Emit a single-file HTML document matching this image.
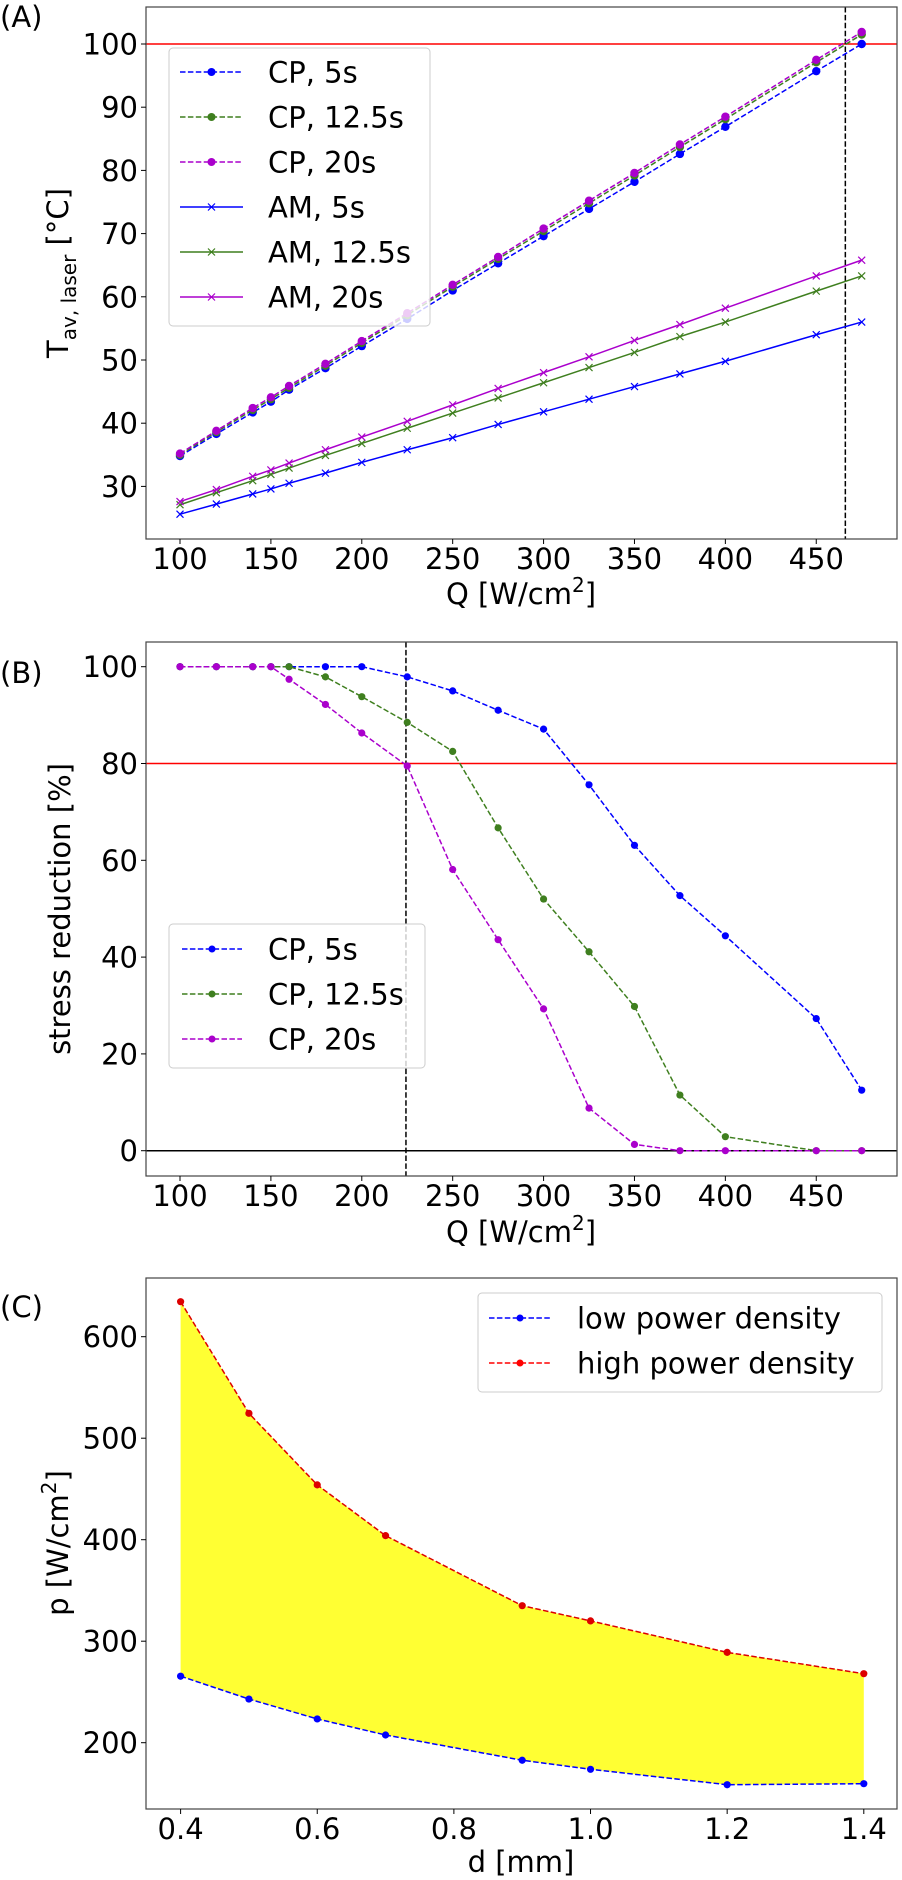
<!DOCTYPE html>
<html><head><meta charset="utf-8"><style>
html,body{margin:0;padding:0;background:#fff;}
svg{display:block;font-family:"DejaVu Sans","Liberation Sans",sans-serif;}
</style></head><body>
<svg id="fig" width="902" height="1880" viewBox="0 0 902 1880" xmlns="http://www.w3.org/2000/svg"></svg>
<script>
// ---- Panel A data ----
const qA = [100,120,140,150,160,180,200,225,250,275,300,325,350,375,400,450,475];
const cp5A  = [34.8,38.3,41.7,43.4,45.3,48.7,52.2,56.5,61.0,65.3,69.6,73.9,78.2,82.6,86.9,95.7,100.0];
const cp12A = [35.0,38.6,42.1,43.8,45.6,49.1,52.7,57.1,61.6,66.0,70.4,74.8,79.2,83.7,88.1,97.1,101.5];
const cp20A = [35.2,38.8,42.4,44.1,45.9,49.4,53.0,57.4,61.9,66.3,70.8,75.2,79.6,84.1,88.5,97.5,101.9];
const am5A  = [25.6,27.2,28.8,29.6,30.5,32.1,33.8,35.8,37.7,39.8,41.8,43.8,45.8,47.8,49.8,54.0,56.0];
const am12A = [27.1,29.0,30.9,31.9,32.9,34.9,36.8,39.2,41.6,44.0,46.4,48.8,51.2,53.7,56.0,60.9,63.3];
const am20A = [27.6,29.5,31.6,32.6,33.7,35.8,37.8,40.3,42.9,45.5,48.0,50.5,53.1,55.6,58.2,63.3,65.8];
const xTicksA = [100,150,200,250,300,350,400,450];
const yTicksA = [30,40,50,60,70,80,90,100];
const limitA = 100;
const vlineA = 466;
// ---- Panel B data ----
const qB = [100,120,140,150,160,180,200,225,250,275,300,325,350,375,400,450,475];
const cp5B  = [100,100,100,100,100,100,100,97.9,95.0,91.0,87.1,75.6,63.1,52.7,44.4,27.3,12.5];
const cp12B = [100,100,100,100,100,97.9,93.8,88.5,82.5,66.7,52.0,41.1,29.8,11.5,2.9,0,0];
const cp20B = [100,100,100,100,97.4,92.2,86.3,79.5,58.1,43.6,29.3,8.8,1.3,0,0,0,0];
const xTicksB = [100,150,200,250,300,350,400,450];
const yTicksB = [0,20,40,60,80,100];
const limitB = 80;
const vlineB = 224.3;
// ---- Panel C data ----
const dC = [0.4,0.5,0.6,0.7,0.9,1.0,1.2,1.4];
const lowC  = [265.5,243,223.4,207.6,182.7,173.8,158.6,159.6];
const highC = [634.5,524.5,454,404,335,320,289,268];
const xTicksC = [0.4,0.6,0.8,1.0,1.2,1.4];
const yTicksC = [200,300,400,500,600];

const NS = "http://www.w3.org/2000/svg";
const svg = document.getElementById('fig');
function mk(tag, attrs, parent){ const e=document.createElementNS(NS,tag); for(const k in attrs) e.setAttribute(k,attrs[k]); (parent||svg).appendChild(e); return e; }
function lin(d0,d1,r0,r1){ return v=> r0+(v-d0)*(r1-r0)/(d1-d0); }

const BLUE='#0000ff', GREEN='#3f7f1f', MAG='#aa00cc', RED='#ff0000';
const FS=29;

function frame(g,L,T,R,B){
  const f=mk('rect',{x:L,y:T,width:R-L,height:B-T,fill:'none',stroke:'#444',"stroke-width":1.2},g);
  
  
}
function ticks(g,xs,ys,X,Y,L,B,fmtX,fmtY){
  xs.forEach(v=>{
    const x=X(v);
    const t=mk('line',{x1:x,x2:x,y1:B,y2:B+5,stroke:'#000',"stroke-width":1},g);
    
    
    const lb=mk('text',{x:x,y:B+30,"font-size":FS,"text-anchor":"middle"},g);
    lb.textContent=fmtX(v);
    
    
  });
  ys.forEach(v=>{
    const y=Y(v);
    const t=mk('line',{x1:L-5,x2:L,y1:y,y2:y,stroke:'#000',"stroke-width":1},g);
    
    
    const lb=mk('text',{x:L-8,y:y+10.5,"font-size":FS,"text-anchor":"end"},g);
    lb.textContent=fmtY(v);
    
    
  });
}
function series(g,xs,ys,X,Y,color,dashed,marker,name,r){
  const pts=xs.map((x,i)=>X(x).toFixed(2)+','+Y(ys[i]).toFixed(2)).join(' ');
  const pl=mk('polyline',{points:pts,fill:'none',stroke:color,"stroke-width":1.5,"stroke-dasharray":dashed?'5.5,2.4':'none'},g);
  
  
  xs.forEach((x,i)=>{
    const cx=X(x), cy=Y(ys[i]);
    let m;
    if(marker==='o'){ m=mk('circle',{cx:cx,cy:cy,r:r||4,fill:color},g); }
    else { m=mk('path',{d:`M${cx-3.5},${cy-3.5}L${cx+3.5},${cy+3.5}M${cx-3.5},${cy+3.5}L${cx+3.5},${cy-3.5}`,stroke:color,"stroke-width":1.2,fill:'none'},g); }
    
    
  });
}
function legend(g,x,y,w,h,rows,lx1,lx2,tx,rowY,mr){
  const box=mk('rect',{x:x,y:y,width:w,height:h,rx:4,fill:'#fff',"fill-opacity":0.8,stroke:'#ccc',"stroke-width":1},g);
  
  
  rows.forEach((r,i)=>{
    const yy=rowY[i];
    const lg=mk('g',{},g);
    
    
    mk('line',{x1:lx1,x2:lx2,y1:yy,y2:yy,stroke:r.c,"stroke-width":1.5,"stroke-dasharray":r.d?'5.5,2.4':'none'},lg);
    const cx=(lx1+lx2)/2;
    if(r.m==='o') mk('circle',{cx:cx,cy:yy,r:mr,fill:r.c},lg);
    else mk('path',{d:`M${cx-3.5},${yy-3.5}L${cx+3.5},${yy+3.5}M${cx-3.5},${yy+3.5}L${cx+3.5},${yy-3.5}`,stroke:r.c,"stroke-width":1.2},lg);
    const t=mk('text',{x:tx,y:yy+10.5,"font-size":FS},lg);
    t.textContent=r.t;
  });
}
function panelLabel(txt,y){
  const t=mk('text',{x:0,y:y,"font-size":29});
  t.textContent=txt;
  
  
}

// ===== Panel A =====
(function(){
  const L=146,T=7,R=897,B=539;
  const g=mk('g',{});
  
  
  const X=lin(100,475,180,861.7), Y=lin(100,30,44,486.4);
  const rl=mk('line',{x1:L,x2:R,y1:Y(limitA),y2:Y(limitA),stroke:RED,"stroke-width":1.5},g);
  
  
  const vl=mk('line',{x1:X(vlineA),x2:X(vlineA),y1:T,y2:B,stroke:'#000',"stroke-width":1.5,"stroke-dasharray":'5.5,2.4'},g);
  
  
  series(g,qA,am5A,X,Y,BLUE,false,'x','am-5s');
  series(g,qA,am12A,X,Y,GREEN,false,'x','am-12-5s');
  series(g,qA,am20A,X,Y,MAG,false,'x','am-20s');
  series(g,qA,cp5A,X,Y,BLUE,true,'o','cp-5s',4.2);
  series(g,qA,cp12A,X,Y,GREEN,true,'o','cp-12-5s',4.2);
  series(g,qA,cp20A,X,Y,MAG,true,'o','cp-20s',4.2);
  frame(g,L,T,R,B);
  ticks(g,xTicksA,yTicksA,X,Y,L,B,v=>String(v),v=>String(v));
  legend(g,169,48,261,278,[
    {t:'CP, 5s',c:BLUE,d:true,m:'o'},{t:'CP, 12.5s',c:GREEN,d:true,m:'o'},{t:'CP, 20s',c:MAG,d:true,m:'o'},
    {t:'AM, 5s',c:BLUE,d:false,m:'x'},{t:'AM, 12.5s',c:GREEN,d:false,m:'x'},{t:'AM, 20s',c:MAG,d:false,m:'x'}],
    180,243,268,[72,117,162,207,252,297],4);
  const xl=mk('text',{x:521,y:604,"font-size":FS,"text-anchor":"middle"},g);
  xl.innerHTML='Q [W/cm<tspan font-size="20" dy="-12">2</tspan><tspan dy="12">]</tspan>';
  
  
  const yl=mk('text',{x:0,y:0,"font-size":FS,"text-anchor":"middle",transform:'translate(68,273) rotate(-90)'},g);
  yl.innerHTML='T<tspan font-size="20" dy="8">av, laser</tspan><tspan dy="-8"> [°C]</tspan>';
  
  
})();
panelLabel('(A)',27);

// ===== Panel B =====
(function(){
  const L=146,T=642,R=897,B=1176;
  const g=mk('g',{});
  
  
  const X=lin(100,475,180,861.7), Y=lin(100,0,666.7,1150.7);
  const rl=mk('line',{x1:L,x2:R,y1:Y(limitB),y2:Y(limitB),stroke:RED,"stroke-width":1.5},g);
  
  
  const zl=mk('line',{x1:L,x2:R,y1:Y(0),y2:Y(0),stroke:'#000',"stroke-width":1.5},g);
  
  
  const vl=mk('line',{x1:X(vlineB),x2:X(vlineB),y1:T,y2:B,stroke:'#000',"stroke-width":1.5,"stroke-dasharray":'5.5,2.4'},g);
  
  
  series(g,qB,cp5B,X,Y,BLUE,true,'o','cp-5s',3.6);
  series(g,qB,cp12B,X,Y,GREEN,true,'o','cp-12-5s',3.6);
  series(g,qB,cp20B,X,Y,MAG,true,'o','cp-20s',3.6);
  frame(g,L,T,R,B);
  ticks(g,xTicksB,yTicksB,X,Y,L,B,v=>String(v),v=>String(v));
  legend(g,169,924,256,144,[
    {t:'CP, 5s',c:BLUE,d:true,m:'o'},{t:'CP, 12.5s',c:GREEN,d:true,m:'o'},{t:'CP, 20s',c:MAG,d:true,m:'o'}],
    182,242,268,[949,994,1039],3.5);
  const xl=mk('text',{x:521,y:1242,"font-size":FS,"text-anchor":"middle"},g);
  xl.innerHTML='Q [W/cm<tspan font-size="20" dy="-12">2</tspan><tspan dy="12">]</tspan>';
  
  
  const yl=mk('text',{x:0,y:0,"font-size":FS,"text-anchor":"middle",transform:'translate(70,909) rotate(-90)'},g);
  yl.textContent='stress reduction [%]';
  
  
})();
panelLabel('(B)',683);

// ===== Panel C =====
(function(){
  const L=146,T=1278,R=897,B=1809;
  const g=mk('g',{});
  
  
  const X=lin(0.4,1.4,180.6,863.8), Y=lin(200,600,1742.7,1336.7);
  const top=dC.map((d,i)=>X(d).toFixed(2)+','+Y(highC[i]).toFixed(2));
  const bot=dC.map((d,i)=>X(d).toFixed(2)+','+Y(lowC[i]).toFixed(2)).reverse();
  const fill=mk('polygon',{points:top.concat(bot).join(' '),fill:'#ffff33',stroke:'none'},g);
  
  
  series(g,dC,lowC,X,Y,BLUE,true,'o','low-power-density',3.6);
  series(g,dC,highC,X,Y,'#dd0000',true,'o','high-power-density',3.6);
  frame(g,L,T,R,B);
  ticks(g,xTicksC,yTicksC,X,Y,L,B,v=>v.toFixed(1),v=>String(v));
  legend(g,478,1293,404,99,[
    {t:'low power density',c:BLUE,d:true,m:'o'},{t:'high power density',c:RED,d:true,m:'o'}],
    489,551,577,[1318,1363],3.5);
  const xl=mk('text',{x:521,y:1872,"font-size":FS,"text-anchor":"middle"},g);
  xl.textContent='d [mm]';
  
  
  const yl=mk('text',{x:0,y:0,"font-size":FS,"text-anchor":"middle",transform:'translate(68,1543) rotate(-90)'},g);
  yl.innerHTML='p [W/cm<tspan font-size="20" dy="-12">2</tspan><tspan dy="12">]</tspan>';
  
  
})();
panelLabel('(C)',1317);
</script>
</body></html>
